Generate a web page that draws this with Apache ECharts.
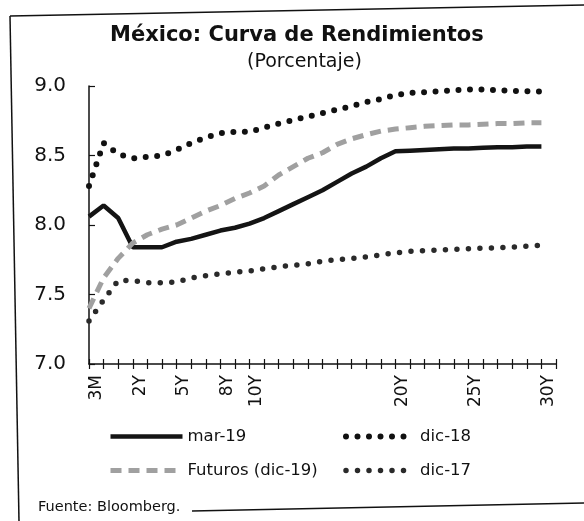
<!DOCTYPE html>
<html>
<head>
<meta charset="utf-8">
<script src="https://cdn.jsdelivr.net/npm/echarts@6/dist/echarts.min.js"></script>
<style>
html,body{margin:0;padding:0;background:#fff;}
#chart{width:584px;height:521px;}
</style>
</head>
<body>
<div id="chart"></div>
<script>
// Categories (maturities)
var categories = ['3M','6M','1Y','2Y','3Y','4Y','5Y','6Y','7Y','8Y','9Y','10Y','11Y','12Y','13Y','14Y','15Y','16Y','17Y','18Y','19Y','20Y','21Y','22Y','23Y','24Y','25Y','26Y','27Y','28Y','29Y','30Y'];
var shownLabels = ['3M','2Y','5Y','8Y','10Y','20Y','25Y','30Y'];
var yTicks = [7.0, 7.5, 8.0, 8.5, 9.0];

var mar19 = [8.06,8.14,8.05,7.84,7.84,7.84,7.88,7.90,7.93,7.96,7.98,8.01,8.05,8.10,8.15,8.20,8.25,8.31,8.37,8.42,8.48,8.53,8.535,8.54,8.545,8.55,8.55,8.555,8.56,8.56,8.565,8.565];
var futuros = [7.40,7.62,7.76,7.87,7.93,7.97,8.00,8.05,8.10,8.14,8.19,8.23,8.28,8.36,8.42,8.48,8.52,8.58,8.62,8.65,8.675,8.69,8.70,8.71,8.715,8.72,8.72,8.725,8.73,8.73,8.735,8.735];
var dic18 = [8.28,8.59,8.51,8.48,8.49,8.50,8.54,8.59,8.63,8.66,8.67,8.67,8.70,8.73,8.755,8.78,8.805,8.83,8.855,8.885,8.905,8.935,8.95,8.955,8.963,8.97,8.975,8.975,8.97,8.965,8.963,8.96];
var dic17 = [7.31,7.46,7.60,7.60,7.585,7.585,7.59,7.62,7.635,7.65,7.66,7.67,7.685,7.70,7.71,7.72,7.74,7.75,7.76,7.77,7.785,7.80,7.81,7.815,7.82,7.825,7.83,7.833,7.837,7.84,7.848,7.855];

var FONT = 'DejaVu Sans';
var chart = echarts.init(document.getElementById('chart'), null, {renderer:'canvas'});

var legendCommon = {
  orient: 'vertical', top: 428, padding: 0,
  itemHeight: 16, itemGap: 17,
  textStyle: {fontFamily: FONT, fontSize: 16.5, color: '#111'},
  itemStyle: {opacity: 0},
  lineStyle: {width: 'inherit'}
};

var option = {
  animation: false,
  backgroundColor: '#fff',
  textStyle: {fontFamily: FONT, color: '#111'},
  grid: {left: 89, right: 28, top: 86, bottom: 157, containLabel: false},
  xAxis: [
    {
      type: 'category',
      data: categories.concat(['']),
      boundaryGap: false,
      axisLine: {show: true, lineStyle: {color: '#111', width: 1.5}},
      axisTick: {show: true, inside: true, length: 5, interval: 0, lineStyle: {color: '#111', width: 1.2}},
      axisLabel: {show: false},
      splitLine: {show: false}
    },
    {
      type: 'category',
      data: categories,
      boundaryGap: true,
      position: 'bottom',
      axisLine: {show: false},
      axisTick: {show: true, inside: false, length: 5, interval: 0, lineStyle: {color: '#111', width: 1.2}},
      axisLabel: {
        show: true, rotate: 90, interval: 0, margin: 11,
        fontFamily: FONT, fontSize: 17, color: '#111',
        formatter: function (v) { return shownLabels.indexOf(v) >= 0 ? v : ''; }
      },
      splitLine: {show: false}
    }
  ],
  yAxis: {
    type: 'value',
    min: 7, max: 9, interval: 0.5,
    axisLine: {show: true, lineStyle: {color: '#111', width: 1.5}},
    axisTick: {show: true, inside: true, length: 6, lineStyle: {color: '#111', width: 1.2}},
    axisLabel: {
      margin: 23, fontFamily: FONT, fontSize: 20, color: '#111',
      formatter: function (v) { return v.toFixed(1); }
    },
    splitLine: {show: false}
  },
  legend: [
    Object.assign({}, legendCommon, {data: ['mar-19', 'Futuros (dic-19)'], left: 108, itemWidth: 72}),
    Object.assign({}, legendCommon, {data: ['dic-18', 'dic-17'], left: 343, itemWidth: 69})
  ],
  graphic: [
    {type: 'text', left: 110, top: 25, style: {text: 'México: Curva de Rendimientos', font: 'bold 21px "DejaVu Sans"', fill: '#111'}},
    {type: 'text', left: 247, top: 53, style: {text: '(Porcentaje)', font: '19px "DejaVu Sans"', fill: '#111'}},
    {type: 'text', left: 38, top: 500, style: {text: 'Fuente: Bloomberg.', font: '14.5px "DejaVu Sans"', fill: '#111'}},
    {type: 'line', shape: {x1: 10, y1: 16, x2: 584, y2: 5}, style: {stroke: '#111', lineWidth: 1.5}},
    {type: 'line', shape: {x1: 10, y1: 16, x2: 19, y2: 521}, style: {stroke: '#111', lineWidth: 1.5}},
    {type: 'line', shape: {x1: 192, y1: 511, x2: 584, y2: 503}, style: {stroke: '#111', lineWidth: 1.5}}
  ],
  series: [
    {
      name: 'mar-19', type: 'line', data: mar19, xAxisIndex: 0,
      symbol: 'none', showSymbol: false,
      lineStyle: {color: '#141414', width: 4.5},
      itemStyle: {color: '#141414'}
    },
    {
      name: 'Futuros (dic-19)', type: 'line', data: futuros, xAxisIndex: 0,
      symbol: 'none', showSymbol: false,
      lineStyle: {color: '#a0a0a0', width: 5, type: [11, 7]},
      itemStyle: {color: '#a0a0a0'}
    },
    {
      name: 'dic-18', type: 'line', data: dic18, xAxisIndex: 0,
      symbol: 'none', showSymbol: false,
      lineStyle: {color: '#111', width: 6, type: [0, 11.5], cap: 'round'},
      itemStyle: {color: '#111'}
    },
    {
      name: 'dic-17', type: 'line', data: dic17, xAxisIndex: 0,
      symbol: 'none', showSymbol: false,
      lineStyle: {color: '#2a2a2a', width: 5.5, type: [0, 11.5], cap: 'round'},
      itemStyle: {color: '#2a2a2a'}
    }
  ]
};
chart.setOption(option);
</script>
</body>
</html>
